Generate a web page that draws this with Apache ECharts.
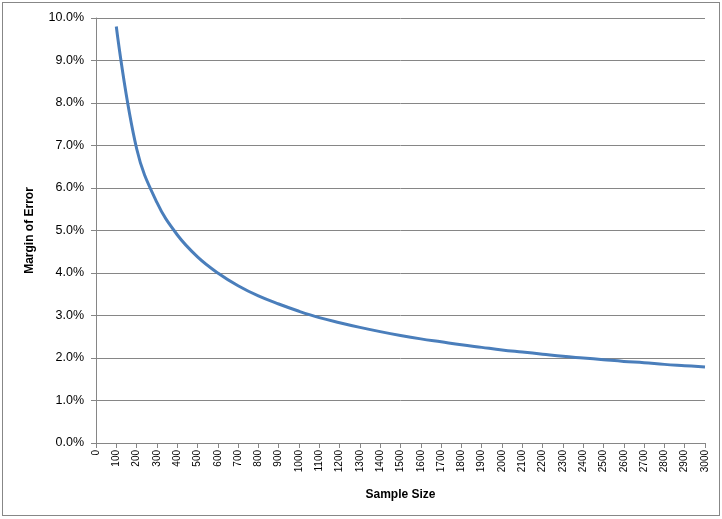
<!DOCTYPE html>
<html><head><meta charset="utf-8">
<script src="https://cdn.jsdelivr.net/npm/echarts@6/dist/echarts.min.js"></script>
<style>html,body{margin:0;padding:0;background:#fff}#c{width:722px;height:519px;position:relative}
#frame{position:absolute;left:2px;top:2px;width:718px;height:514px;border:1px solid #878787;box-sizing:border-box;pointer-events:none}</style>
</head><body><div id="c"></div><div id="frame"></div>
<script>
const sampleSizes = [100,200,300,400,500,600,700,800,900,1000,1100,1200,1300,1400,1500,1600,1700,1800,1900,2000,2100,2200,2300,2400,2500,2600,2700,2800,2900,3000];
const marginOfError = [9.80,6.93,5.66,4.90,4.38,4.00,3.70,3.46,3.27,3.10,2.95,2.83,2.72,2.62,2.53,2.45,2.38,2.31,2.25,2.19,2.14,2.09,2.04,2.00,1.96,1.92,1.89,1.85,1.82,1.79];
const xTitle = 'Sample Size';
const yTitle = 'Margin of Error';

const chart = echarts.init(document.getElementById('c'), null, {renderer:'canvas'});
const font = 'Liberation Sans, Arial, sans-serif';
chart.setOption({
  animation:false,
  grid:{left:96,right:17,top:18,bottom:76,containLabel:false},
  xAxis:{type:'value',min:0,max:3000,interval:100,
    name:xTitle,nameLocation:'middle',nameGap:46,
    nameTextStyle:{fontFamily:font,fontWeight:'bold',fontSize:12,color:'#000'},
    axisLine:{lineStyle:{color:'#868686',width:1}},
    axisTick:{show:true,length:5,lineStyle:{color:'#868686'}},
    axisLabel:{rotate:90,fontFamily:font,fontSize:10,color:'#000',margin:7,showMinLabel:true,showMaxLabel:true,formatter:v=>String(v)},
    splitLine:{show:false}},
  yAxis:{type:'value',min:0,max:10,interval:1,
    name:yTitle,nameLocation:'middle',nameGap:60,
    nameTextStyle:{fontFamily:font,fontWeight:'bold',fontSize:12,color:'#000'},
    axisLine:{show:true,lineStyle:{color:'#868686',width:1}},
    axisTick:{show:true,length:5,lineStyle:{color:'#868686'}},
    axisLabel:{fontFamily:font,fontSize:12.5,color:'#000',margin:12,formatter:v=>v.toFixed(1)+'%'},
    splitLine:{show:true,lineStyle:{color:'#868686',width:1}}},
  series:[{type:'line',data:sampleSizes.map((s,i)=>[s,marginOfError[i]]),
    smooth:0.4,showSymbol:false,lineStyle:{color:'#4A7EBB',width:3}}]
});
</script></body></html>
